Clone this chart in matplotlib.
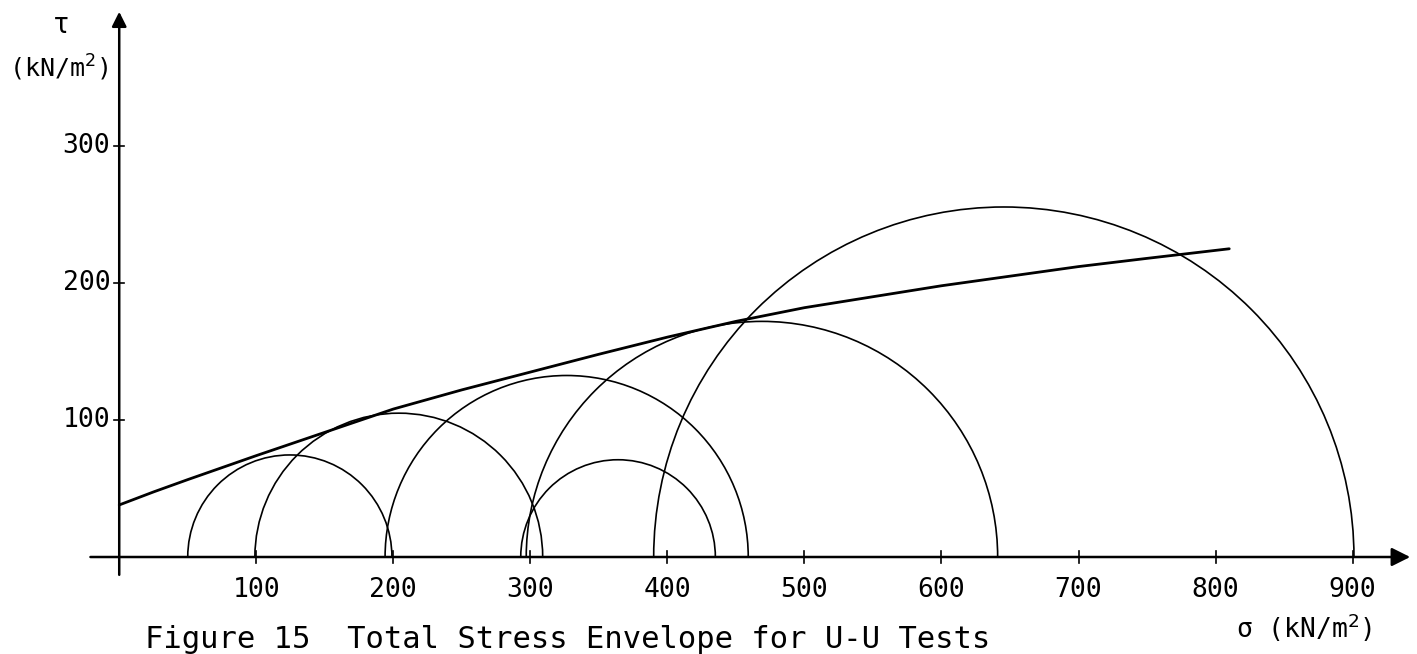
import matplotlib.pyplot as plt
from matplotlib.patches import Arc

# Mohr circles from the U-U tests: minor and major principal stress (kN/m2)
sigma3 = [50, 99, 194, 293, 297, 390]
sigma1 = [199, 309, 459, 435, 641, 901]

# total stress envelope read along sigma (kN/m2)
env_sigma = [0, 25, 50, 100, 150, 200, 250, 300, 350, 400, 450, 500, 550, 600, 650, 700, 750, 810]
env_tau = [38, 47.5, 56.5, 74, 91, 108, 122, 135, 148, 160.5, 172, 182, 190, 198, 205, 212, 218, 225]

x_ticks = [100, 200, 300, 400, 500, 600, 700, 800, 900]
y_ticks = [100, 200, 300]

plt.rcParams['font.family'] = ['DejaVu Sans Mono', 'DejaVu Sans']

fig = plt.figure(figsize=(14.17, 6.54), dpi=100)
ax = fig.add_axes([0, 0, 1, 1])
ax.set_xlim(-87, 947)
ax.set_ylim(-70.8, 406.6)
ax.axis('off')

# axes drawn by hand, with arrow heads
ax.annotate('', xy=(942, 0), xytext=(-21, 0),
            arrowprops=dict(arrowstyle='-|>', lw=1.8, color='black',
                            mutation_scale=28, shrinkA=0, shrinkB=0))
ax.annotate('', xy=(0, 398), xytext=(0, -13),
            arrowprops=dict(arrowstyle='-|>', lw=1.8, color='black',
                            mutation_scale=22, shrinkA=0, shrinkB=0))

for x in x_ticks:
    ax.plot([x, x], [-4.5, 4.5], color='black', lw=1.2)
    ax.text(x, -24, str(x), ha='center', va='center', fontsize=19)

for y in y_ticks:
    ax.plot([-3.6, 3.6], [y, y], color='black', lw=1.2)
    ax.text(-6.5, y, str(y), ha='right', va='center', fontsize=19)

# circles
for s3, s1 in zip(sigma3, sigma1):
    c = (s1 + s3) / 2
    d = s1 - s3
    ax.add_patch(Arc((c, 0), d, d, theta1=0, theta2=180, color='black', lw=1.2))

ax.plot(env_sigma, env_tau, color='black', lw=2.0, solid_capstyle='round')

ax.text(-42, 388, 'τ', ha='center', va='center', fontsize=20)
ax.text(-44, 357, '(kN/m$^2$)', ha='center', va='center', fontsize=18)
ax.text(815, -52, 'σ (kN/m$^2$)', ha='left', va='center', fontsize=19)
ax.text(19, -66.5, 'Figure 15  Total Stress Envelope for U-U Tests',
        ha='left', va='baseline', fontsize=22)

fig.savefig('out.png', dpi=100)
